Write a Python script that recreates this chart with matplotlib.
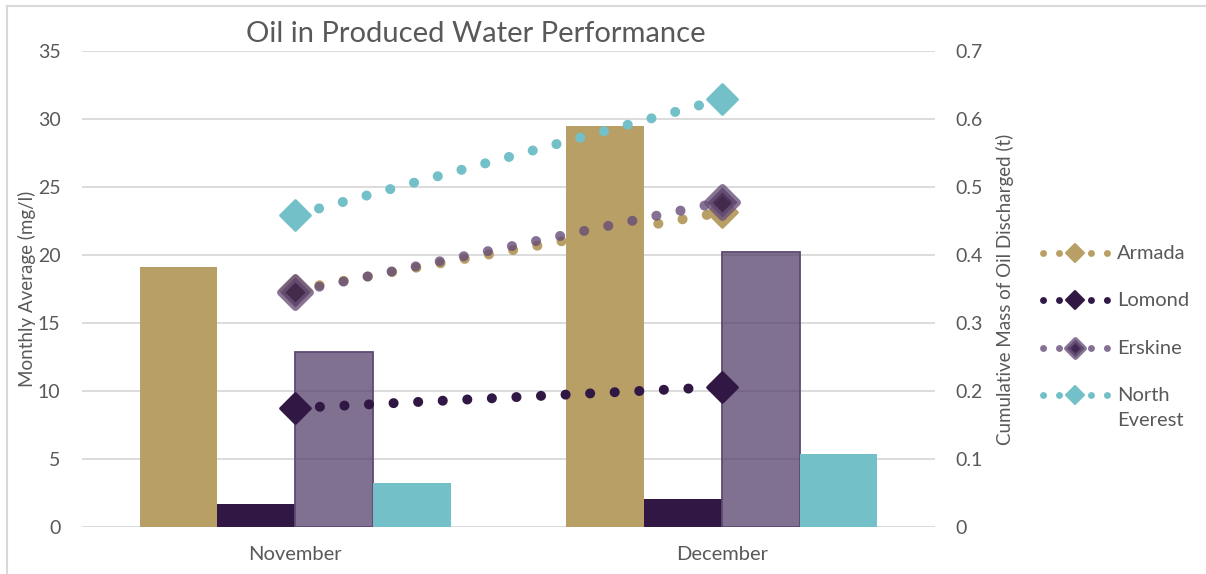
import numpy as np
import matplotlib
matplotlib.use("Agg")
import matplotlib.pyplot as plt
from matplotlib.markers import MarkerStyle

plt.rcParams['font.family'] = ['Lato', 'DejaVu Sans']

# Monthly data
months = ['November', 'December']
fields = ['Armada', 'Lomond', 'Erskine', 'North\nEverest']

# Monthly average oil in water (mg/l), bars
armada_avg = [19.1, 29.5]
lomond_avg = [1.7, 2.05]
erskine_avg = [12.9, 20.2]
everest_avg = [3.2, 5.35]

# Cumulative mass of oil discharged (t), lines
armada_cum = [0.349, 0.463]
lomond_cum = [0.175, 0.206]
erskine_cum = [0.346, 0.478]
everest_cum = [0.459, 0.629]

gold = '#b89f65'
dark = '#311743'
purple = (75/255, 53/255, 99/255, 0.7)
purple_edge = '#5e4a72'
teal = '#73c0c9'
text_col = '#595959'
grid_col = '#d9d9d9'

erskine_line = (0.40, 0.30, 0.47, 0.8)
erskine_inner = (0.22, 0.12, 0.29, 0.9)
erskine_outer = (0.42, 0.32, 0.48, 0.8)

W, H = 1206, 574
fig = plt.figure(figsize=(W/100, H/100), dpi=100)
ax = fig.add_axes([82/W, 1 - 527/H, (935 - 82)/W, (527 - 51)/H])
ax2 = ax.twinx()

x = np.arange(len(months))
w = 0.1825

ax.set_axisbelow(True)
ax.yaxis.grid(True, color=grid_col, linewidth=1.3)
ax.bar(x - 1.5*w, armada_avg, w, color=gold, zorder=2)
ax.bar(x - 0.5*w, lomond_avg, w, color=dark, zorder=2)
ax.bar(x + 0.5*w, erskine_avg, w, color=purple, edgecolor=purple_edge, linewidth=1.3, zorder=2)
ax.bar(x + 1.5*w, everest_avg, w, color=teal, zorder=2)

ax.set_xlim(-0.5, 1.5)
ax.set_ylim(0, 35)
ax.set_yticks(np.arange(0, 36, 5))
ax.set_xticks(x)
ax.set_xticklabels(months)
for s in list(ax.spines.values()) + list(ax2.spines.values()):
    s.set_visible(False)
ax.tick_params(axis='y', length=0, labelsize=14, colors=text_col, pad=15.5)
ax.tick_params(axis='x', length=0, labelsize=14.5, colors=text_col, pad=14)
ax.set_ylabel('Monthly Average (mg/l)', fontsize=13.5, color=text_col)
ax.yaxis.set_label_coords((36 - 82)/853, 0.5)

diamond = MarkerStyle('D', joinstyle='round')

# Cumulative lines drawn as round dots with diamond end markers
def cum_line(vals, color, mfc, mec, mew):
    ax2.plot(x, vals, color=color, linewidth=7.2, linestyle=(0, (0.01, 2.45)),
             dash_capstyle='round', zorder=3)
    ax2.plot(x, vals, linestyle='none', marker=diamond, markersize=15.5,
             markerfacecolor=mfc, markeredgecolor=mec, markeredgewidth=mew,
             zorder=4)

cum_line(armada_cum, gold, gold, gold, 2)
cum_line(lomond_cum, dark, dark, dark, 2)
cum_line(erskine_cum, erskine_line, erskine_inner, erskine_outer, 5)
cum_line(everest_cum, teal, teal, teal, 2)

ax2.set_ylim(0, 0.7)
ax2.set_yticks(np.arange(0, 0.71, 0.1))
ax2.set_yticklabels(['0'] + ['%.1f' % v for v in np.arange(0.1, 0.71, 0.1)])
ax2.tick_params(axis='y', length=0, labelsize=14, colors=text_col, pad=14.5)
ax2.set_ylabel('Cumulative Mass of Oil Discharged (t)', fontsize=13.5, color=text_col)
ax2.yaxis.set_label_coords((996 - 82)/853, 0.5)

fig.text(476/W, 1 - 42/H, 'Oil in Produced Water Performance', fontsize=21,
         color=text_col, ha='center', va='baseline')

# Legend drawn on an overlay in pixel coordinates
lax = fig.add_axes([0, 0, 1, 1])
lax.set_xlim(0, W)
lax.set_ylim(H, 0)
lax.axis('off')
leg_styles = [
    (gold, gold, gold, 1.5),
    (dark, dark, dark, 1.5),
    (erskine_line, erskine_inner, erskine_outer, 3.5),
    (teal, teal, teal, 1.5),
]
leg_y = [253, 300, 348, 395]
for (c, mfc, mec, mew), ly, name in zip(leg_styles, leg_y, fields):
    lax.plot([1043, 1108], [ly, ly], color=c, linewidth=5.0,
             linestyle=(0, (0.01, 2.29)), dash_capstyle='round')
    lax.plot([1075], [ly], linestyle='none', marker=diamond, markersize=9.5,
             markerfacecolor=mfc, markeredgecolor=mec, markeredgewidth=mew)
    lax.text(1117, ly - 8, name, fontsize=14.5, color=text_col,
             ha='left', va='top', linespacing=1.6)

# Chart frame edges
lax.plot([7, 7], [6, H], color=grid_col, linewidth=1.5)
lax.plot([7, W], [6, 6], color=grid_col, linewidth=1.5)

fig.savefig('out.png', dpi=100)
